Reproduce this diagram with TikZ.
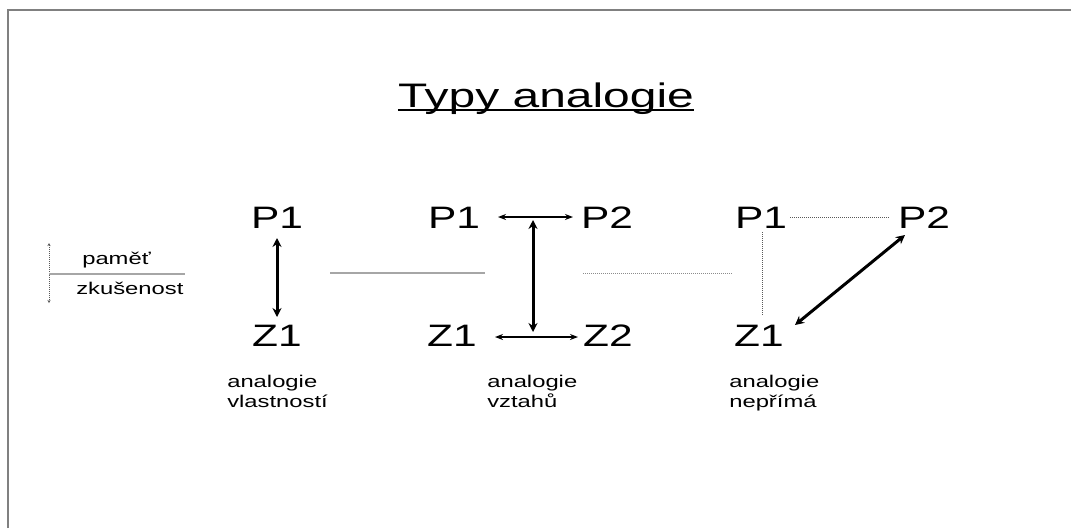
\documentclass[tikz,border=0pt]{standalone}
\usepackage{fontspec}
\setmainfont{Liberation Sans}
\usetikzlibrary{arrows.meta}
\begin{document}
\begin{tikzpicture}[x=1pt,y=-1pt,
  lbl/.style={inner sep=0pt, xscale=1.37, anchor=base, font=\fontsize{31}{31}\selectfont},
  small/.style={inner sep=0pt, xscale=1.4, anchor=base west, font=\fontsize{17}{17}\selectfont},
  thickarrow/.style={line width=3pt, {Stealth[length=9pt,width=9pt]}-{Stealth[length=9pt,width=9pt]}},
  thinarrow/.style={line width=1.8pt, {Stealth[length=8pt,width=6pt]}-{Stealth[length=8pt,width=6pt]}},
  dotline/.style={black!65, line width=1pt, dash pattern=on 1pt off 1pt},
  grayline/.style={black!35, line width=1.2pt},
  frame/.style={black!50, line width=2pt}
]
\useasboundingbox (0,0) rectangle (1071,528);
\fill[white] (0,0) rectangle (1071,528);
\draw[frame] (8,528) -- (8,10) -- (1071,10);

% title
\node[anchor=base, inner sep=0pt, xscale=1.41, font=\fontsize{34}{34}\selectfont] (title) at (546,107) {Typy analogie};
\draw[line width=1.8pt] ([yshift=-3pt]title.base west) -- ([yshift=-3pt]title.base east);

% left legend
\coordinate (lt) at (49,243);
\coordinate (lb) at (49,303);
\coordinate (ll) at (49,274);
\coordinate (lr) at (185,274);
\draw[dotline, {Stealth[length=3pt,width=3pt]}-{Stealth[length=3pt,width=3pt]}] (lt) -- (lb);
\draw[grayline] (ll) -- (lr);
\node[small] (pamet) at (82,264) {paměť};
\node[small] (zkus) at (76,294) {zkušenost};

% separators
\coordinate (s1a) at (330,273);
\coordinate (s1b) at (485,273);
\coordinate (s2a) at (583,273);
\coordinate (s2b) at (732,273);
\draw[grayline] (s1a) -- (s1b);
\draw[dotline, black!45] (s2a) -- (s2b);

% diagram 1
\node[lbl] (ap1) at (277,228) {P1};
\node[lbl] (az1) at (277,346) {Z1};
\coordinate (a1t) at (277,238);
\coordinate (a1b) at (277,317);
\draw[thickarrow] (a1t) -- (a1b);
\node[small] (capa) at (227,387) {analogie};
\node[small] (capa2) at (227,407) {vlastností};

% diagram 2
\node[lbl] (bp1) at (454,228) {P1};
\node[lbl] (bp2) at (607,228) {P2};
\node[lbl] (bz1) at (452,346) {Z1};
\node[lbl] (bz2) at (608,346) {Z2};
\coordinate (b1l) at (498,217);
\coordinate (b1r) at (573,217);
\coordinate (b2l) at (495,337);
\coordinate (b2r) at (578,337);
\coordinate (bvt) at (533,220);
\coordinate (bvb) at (533,332);
\draw[thinarrow] (b1l) -- (b1r);
\draw[thinarrow] (b2l) -- (b2r);
\draw[thickarrow] (bvt) -- (bvb);
\node[small] (capb) at (487,387) {analogie};
\node[small] (capb2) at (487,407) {vztahů};

% diagram 3
\node[lbl] (cp1) at (761,228) {P1};
\node[lbl] (cp2) at (924,228) {P2};
\node[lbl] (cz1) at (759,346) {Z1};
\coordinate (c1l) at (790,217);
\coordinate (c1r) at (890,217);
\coordinate (cvt) at (762,232);
\coordinate (cvb) at (762,315);
\coordinate (cdb) at (795,325);
\coordinate (cdt) at (905,235);
\draw[dotline] (c1l) -- (c1r);
\draw[dotline] (cvt) -- (cvb);
\draw[thickarrow] (cdb) -- (cdt);
\node[small] (capc) at (729,387) {analogie};
\node[small] (capc2) at (729,407) {nepřímá};
\end{tikzpicture}
\end{document}
